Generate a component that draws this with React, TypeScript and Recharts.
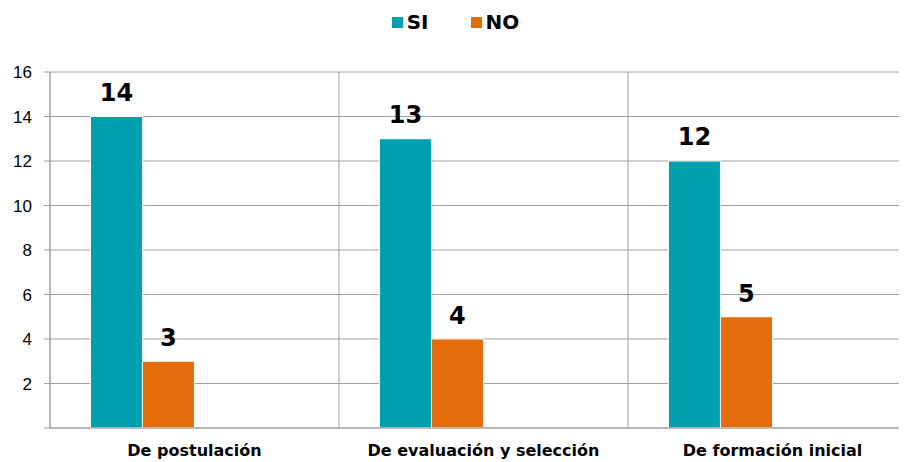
import React from 'react';
import { BarChart, Bar, XAxis, YAxis, CartesianGrid, Legend, LabelList } from 'recharts';

const categories = ['De postulación', 'De evaluación y selección', 'De formación inicial'];
const siValues = [14, 13, 12];
const noValues = [3, 4, 5];
const blankA: (number | null)[] = [null, null, null];
const blankB: (number | null)[] = [null, null, null];
const yTicks = [0, 2, 4, 6, 8, 10, 12, 14, 16];
const edgeTicks = [0, 1, 2, 3];

const data = categories.map((c, i) => ({
  name: c,
  SI: siValues[i],
  NO: noValues[i],
  x3: blankA[i],
  x4: blankB[i],
}));

const TEAL = '#00A0AE';
const ORANGE = '#E46C0A';
const GRID = '#A0A0A0';
const FONT = "'Century Gothic', 'Liberation Sans', sans-serif";
const BOLD_FONT = "'Century Gothic', 'DejaVu Sans', sans-serif";

const LegendContent = () => (
  <div
    style={{
      display: 'flex',
      justifyContent: 'center',
      alignItems: 'center',
      height: 64,
      boxSizing: 'border-box',
      paddingBottom: 36,
      paddingRight: 14,
      fontFamily: BOLD_FONT,
      fontWeight: 700,
      fontSize: 20,
      lineHeight: '24px',
      color: '#000',
    }}
  >
    <span style={{ display: 'inline-block', width: 11, height: 11, background: TEAL, marginRight: 4 }} />
    <span style={{ marginRight: 42 }}>SI</span>
    <span style={{ display: 'inline-block', width: 11, height: 11, background: ORANGE, marginRight: 4 }} />
    <span>NO</span>
  </div>
);

export default function App() {
  return (
    <div style={{ width: 899, overflow: 'hidden' }}>
      <BarChart
        width={912}
        height={454}
        data={data}
        margin={{ top: 0, right: 3, bottom: 0, left: 0 }}
        barCategoryGap="14%"
        barGap={0}
      >
        <CartesianGrid
          stroke={GRID}
          verticalCoordinatesGenerator={({ offset }: any) =>
            edgeTicks.map((t) => offset.left + (t * offset.width) / 3)
          }
        />
        <XAxis
          xAxisId="edges"
          type="number"
          domain={[0, 3]}
          ticks={edgeTicks}
          tick={false}
          tickSize={5}
          tickLine={{ stroke: GRID }}
          axisLine={false}
          height={0}
        />
        <XAxis
          dataKey="name"
          tickLine={false}
          axisLine={{ stroke: GRID }}
          height={34}
          tick={{ fill: '#000', fontSize: 16, fontWeight: 700, fontFamily: BOLD_FONT }}
          tickMargin={11}
          interval={0}
        />
        <YAxis
          width={42}
          domain={[0, 16]}
          ticks={yTicks}
          tickFormatter={(v: number) => (v === 0 ? '' : String(v))}
          tick={{ fill: '#000', fontSize: 17, fontFamily: FONT }}
          tickSize={6}
          tickMargin={12}
          tickLine={{ stroke: GRID }}
          axisLine={{ stroke: GRID }}
        />
        <Legend verticalAlign="top" align="center" content={<LegendContent />} />
        <Bar dataKey="SI" fill={TEAL} stroke="#fff" strokeWidth={1} isAnimationActive={false}>
          <LabelList dataKey="SI" position="top" offset={16} style={{ fill: '#000', fontSize: 24, fontWeight: 700, fontFamily: BOLD_FONT }} />
        </Bar>
        <Bar dataKey="NO" fill={ORANGE} stroke="#fff" strokeWidth={1} isAnimationActive={false}>
          <LabelList dataKey="NO" position="top" offset={15} style={{ fill: '#000', fontSize: 24, fontWeight: 700, fontFamily: BOLD_FONT }} />
        </Bar>
        <Bar dataKey="x3" fill="none" legendType="none" isAnimationActive={false} />
        <Bar dataKey="x4" fill="none" legendType="none" isAnimationActive={false} />
      </BarChart>
    </div>
  );
}
